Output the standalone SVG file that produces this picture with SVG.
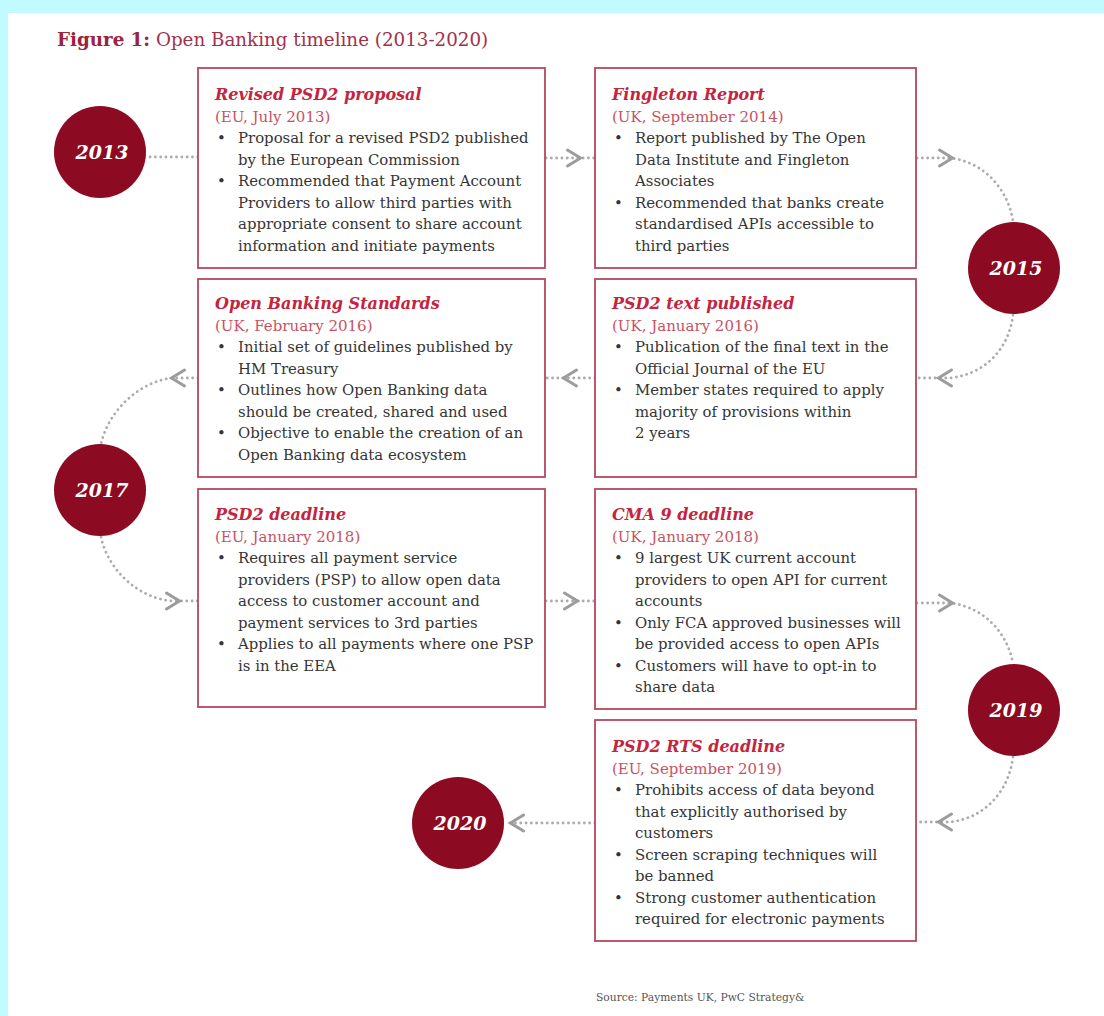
<svg xmlns="http://www.w3.org/2000/svg" xmlns:xlink="http://www.w3.org/1999/xlink" width="1104" height="1016" viewBox="0 0 1104 1016">
  <style>
    .panel { fill: #ffffff; }
    .box { fill: #ffffff; stroke: #b34a5c; stroke-width: 1.8; }
    .year { fill: #8c0b22; }
    .year-label { font-family: "DejaVu Serif", "Liberation Serif", serif; font-weight: bold; font-style: italic; font-size: 19px; fill: #ffffff; text-anchor: middle; }
    .head { font-family: "DejaVu Serif", "Liberation Serif", serif; font-weight: bold; font-style: italic; font-size: 16px; fill: #c4243e; }
    .sub { font-family: "DejaVu Serif", "Liberation Serif", serif; font-size: 15px; fill: #c85262; }
    .body { font-family: "DejaVu Serif", "Liberation Serif", serif; font-size: 14.9px; fill: #353535; }
    .title { font-family: "DejaVu Serif", "Liberation Serif", serif; font-size: 18.3px; fill: #a3304a; }
    .title .bold { font-weight: bold; fill: #9c2340; }
    .source { font-family: "DejaVu Serif", "Liberation Serif", serif; font-size: 10.7px; fill: #555555; }
    .link { fill: none; stroke: #acacac; stroke-width: 2.8; stroke-linecap: round; stroke-dasharray: 0.1 5.2; }
    .chev { fill: none; stroke: #9c9c9c; stroke-width: 3; stroke-linecap: round; stroke-linejoin: miter; }
  </style>
  <defs>
    <!-- open chevron pointing right, centred on the origin -->
    <path id="chevron" class="chev" d="M -6.5,-8 L 6.5,0 L -6.5,8"/>
  </defs>

  <!-- page background and white sheet -->
  <rect x="0" y="0" width="1104" height="1016" fill="#c2fbff"/>
  <rect class="panel" x="8" y="13" width="1096" height="1003"/>

  <text class="title" x="57" y="46"><tspan class="bold">Figure 1:</tspan> Open Banking timeline (2013-2020)</text>

  <!-- dotted connectors with chevrons -->
  <g id="connectors">
    <path class="link" d="M 150,157 H 198"/>
    <path class="link" d="M 546,158 H 595"/>
    <use xlink:href="#chevron" transform="translate(574,158)"/>
    <path class="link" d="M 917,158 H 950 C 985,162 1008,190 1013,221"/>
    <use xlink:href="#chevron" transform="translate(946,158)"/>
    <path class="link" d="M 1013,315 C 1009,348 986,374 950,378 H 917"/>
    <use xlink:href="#chevron" transform="translate(945,378) rotate(180)"/>
    <path class="link" d="M 595,378 H 546"/>
    <use xlink:href="#chevron" transform="translate(570,378) rotate(180)"/>
    <path class="link" d="M 198,378 H 172 C 138,382 108,412 101,444"/>
    <use xlink:href="#chevron" transform="translate(178,378) rotate(180)"/>
    <path class="link" d="M 101,537 C 108,570 138,598 172,601 H 198"/>
    <use xlink:href="#chevron" transform="translate(173,601)"/>
    <path class="link" d="M 546,601 H 595"/>
    <use xlink:href="#chevron" transform="translate(571,601)"/>
    <path class="link" d="M 917,603 H 950 C 985,607 1008,634 1013,664"/>
    <use xlink:href="#chevron" transform="translate(946,603)"/>
    <path class="link" d="M 1013,757 C 1009,790 986,818 950,822 H 917"/>
    <use xlink:href="#chevron" transform="translate(945,822) rotate(180)"/>
    <path class="link" d="M 595,823 H 508"/>
    <use xlink:href="#chevron" transform="translate(517,823) rotate(180)"/>
  </g>

  <!-- year markers -->
  <g id="y2013"><circle class="year" cx="100" cy="152" r="46"/><text class="year-label" x="102" y="159">2013</text></g>
  <g id="y2015"><circle class="year" cx="1014" cy="268" r="46"/><text class="year-label" x="1016" y="275">2015</text></g>
  <g id="y2017"><circle class="year" cx="100" cy="490" r="46"/><text class="year-label" x="102" y="497">2017</text></g>
  <g id="y2019"><circle class="year" cx="1014" cy="710" r="46"/><text class="year-label" x="1016" y="717">2019</text></g>
  <g id="y2020"><circle class="year" cx="458" cy="823" r="46"/><text class="year-label" x="460" y="830">2020</text></g>

  <!-- event boxes -->
  <g id="revised-psd2">
    <rect class="box" x="198" y="68" width="347" height="200"/>
    <text class="head" x="215" y="100">Revised PSD2 proposal</text>
    <text class="sub" x="215" y="122">(EU, July 2013)</text>
    <text class="body" x="217" y="143">•</text>
    <text class="body" x="238" y="143">Proposal for a revised PSD2 published</text>
    <text class="body" x="238" y="164.5">by the European Commission</text>
    <text class="body" x="217" y="186">•</text>
    <text class="body" x="238" y="186">Recommended that Payment Account</text>
    <text class="body" x="238" y="207.5">Providers to allow third parties with</text>
    <text class="body" x="238" y="229">appropriate consent to share account</text>
    <text class="body" x="238" y="250.5">information and initiate payments</text>
  </g>

  <g id="fingleton">
    <rect class="box" x="595" y="68" width="321" height="200"/>
    <text class="head" x="612" y="100">Fingleton Report</text>
    <text class="sub" x="612" y="122">(UK, September 2014)</text>
    <text class="body" x="614" y="143">•</text>
    <text class="body" x="635" y="143">Report published by The Open</text>
    <text class="body" x="635" y="164.5">Data Institute and Fingleton</text>
    <text class="body" x="635" y="186">Associates</text>
    <text class="body" x="614" y="207.5">•</text>
    <text class="body" x="635" y="207.5">Recommended that banks create</text>
    <text class="body" x="635" y="229">standardised APIs accessible to</text>
    <text class="body" x="635" y="250.5">third parties</text>
  </g>

  <g id="ob-standards">
    <rect class="box" x="198" y="279" width="347" height="198"/>
    <text class="head" x="215" y="309">Open Banking Standards</text>
    <text class="sub" x="215" y="331">(UK, February 2016)</text>
    <text class="body" x="217" y="352">•</text>
    <text class="body" x="238" y="352">Initial set of guidelines published by</text>
    <text class="body" x="238" y="373.5">HM Treasury</text>
    <text class="body" x="217" y="395">•</text>
    <text class="body" x="238" y="395">Outlines how Open Banking data</text>
    <text class="body" x="238" y="416.5">should be created, shared and used</text>
    <text class="body" x="217" y="438">•</text>
    <text class="body" x="238" y="438">Objective to enable the creation of an</text>
    <text class="body" x="238" y="459.5">Open Banking data ecosystem</text>
  </g>

  <g id="psd2-text">
    <rect class="box" x="595" y="279" width="321" height="198"/>
    <text class="head" x="612" y="309">PSD2 text published</text>
    <text class="sub" x="612" y="331">(UK, January 2016)</text>
    <text class="body" x="614" y="352">•</text>
    <text class="body" x="635" y="352">Publication of the final text in the</text>
    <text class="body" x="635" y="373.5">Official Journal of the EU</text>
    <text class="body" x="614" y="395">•</text>
    <text class="body" x="635" y="395">Member states required to apply</text>
    <text class="body" x="635" y="416.5">majority of provisions within</text>
    <text class="body" x="635" y="438">2 years</text>
  </g>

  <g id="psd2-deadline">
    <rect class="box" x="198" y="489" width="347" height="218"/>
    <text class="head" x="215" y="520">PSD2 deadline</text>
    <text class="sub" x="215" y="542">(EU, January 2018)</text>
    <text class="body" x="217" y="563">•</text>
    <text class="body" x="238" y="563">Requires all payment service</text>
    <text class="body" x="238" y="584.5">providers (PSP) to allow open data</text>
    <text class="body" x="238" y="606">access to customer account and</text>
    <text class="body" x="238" y="627.5">payment services to 3rd parties</text>
    <text class="body" x="217" y="649">•</text>
    <text class="body" x="238" y="649">Applies to all payments where one PSP</text>
    <text class="body" x="238" y="670.5">is in the EEA</text>
  </g>

  <g id="cma9">
    <rect class="box" x="595" y="489" width="321" height="220"/>
    <text class="head" x="612" y="520">CMA 9 deadline</text>
    <text class="sub" x="612" y="542">(UK, January 2018)</text>
    <text class="body" x="614" y="563">•</text>
    <text class="body" x="635" y="563">9 largest UK current account</text>
    <text class="body" x="635" y="584.5">providers to open API for current</text>
    <text class="body" x="635" y="606">accounts</text>
    <text class="body" x="614" y="627.5">•</text>
    <text class="body" x="635" y="627.5">Only FCA approved businesses will</text>
    <text class="body" x="635" y="649">be provided access to open APIs</text>
    <text class="body" x="614" y="670.5">•</text>
    <text class="body" x="635" y="670.5">Customers will have to opt-in to</text>
    <text class="body" x="635" y="692">share data</text>
  </g>

  <g id="psd2-rts">
    <rect class="box" x="595" y="720" width="321" height="221"/>
    <text class="head" x="612" y="752">PSD2 RTS deadline</text>
    <text class="sub" x="612" y="774">(EU, September 2019)</text>
    <text class="body" x="614" y="795">•</text>
    <text class="body" x="635" y="795">Prohibits access of data beyond</text>
    <text class="body" x="635" y="816.5">that explicitly authorised by</text>
    <text class="body" x="635" y="838">customers</text>
    <text class="body" x="614" y="859.5">•</text>
    <text class="body" x="635" y="859.5">Screen scraping techniques will</text>
    <text class="body" x="635" y="881">be banned</text>
    <text class="body" x="614" y="902.5">•</text>
    <text class="body" x="635" y="902.5">Strong customer authentication</text>
    <text class="body" x="635" y="924">required for electronic payments</text>
  </g>

  <text class="source" x="596" y="1001">Source: Payments UK, PwC Strategy&amp;</text>
</svg>
